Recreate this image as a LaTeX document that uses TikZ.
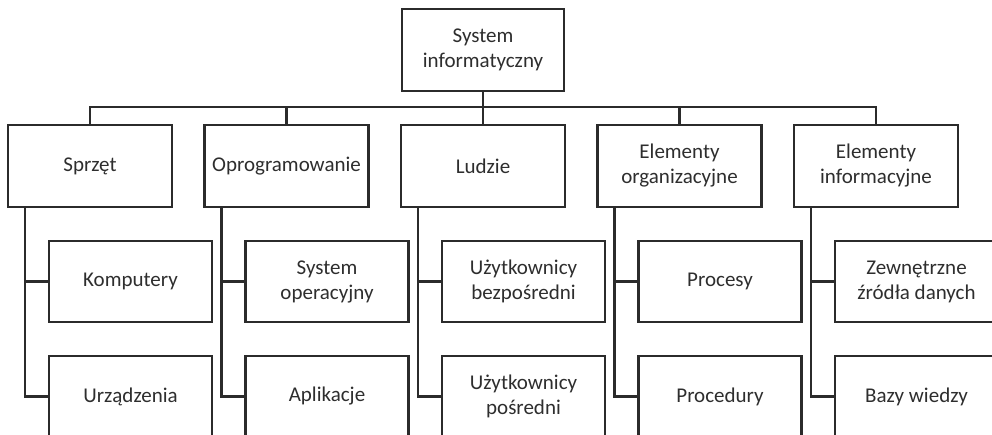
\documentclass[tikz,border=0pt]{standalone}
\usepackage{fontspec}
\setmainfont{Carlito}
\definecolor{ln}{rgb}{0.17,0.17,0.17}
\definecolor{tx}{rgb}{0.18,0.18,0.18}
\begin{document}
\begin{tikzpicture}[x=1pt,y=-1pt,
  box/.style={draw=ln,line width=2.6pt,fill=white,align=center,text=tx,
    font=\fontsize{21}{25}\selectfont,inner sep=0pt,
    minimum width=164pt,minimum height=82pt},
  subbox/.style={box,minimum width=163pt,minimum height=81pt},
  conn/.style={draw=ln,line width=2.6pt}]
\useasboundingbox (0,0) rectangle (992,434);
\clip (0,0) rectangle (992,434);
\fill[white] (0,0) rectangle (992,434);
\coordinate (bus) at (0,107);
\node[box,minimum width=162pt] (top) at (483,50) {System\\informatyczny};
\node[box] (a) at (90,166) {Sprzęt};
\node[box] (b) at (286.5,166) {Oprogramowanie};
\node[box] (c) at (483,166) {Ludzie};
\node[box] (d) at (679.5,166) {Elementy\\organizacyjne};
\node[box] (e) at (876,166) {Elementy\\informacyjne};
\node[subbox] (a1) at (130.5,281.5) {Komputery};
\node[subbox] (a2) at (130.5,396.5) {Urządzenia};
\node[subbox] (b1) at (327,281.5) {System\\operacyjny};
\node[subbox] (b2) at (327,396.5) {Aplikacje};
\node[subbox] (c1) at (523.5,281.5) {Użytkownicy\\bezpośredni};
\node[subbox] (c2) at (523.5,396.5) {Użytkownicy\\pośredni};
\node[subbox] (d1) at (720,281.5) {Procesy};
\node[subbox] (d2) at (720,396.5) {Procedury};
\node[subbox] (e1) at (916.5,281.5) {Zewnętrzne\\źródła danych};
\node[subbox] (e2) at (916.5,396.5) {Bazy wiedzy};
\draw[conn] (top.south) -- (top.south |- bus);
\draw[conn] (a.north) -- (a.north |- bus) -- (e.north |- bus) -- (e.north);
\foreach \n in {b,c,d}{\draw[conn] (\n.north) -- (\n.north |- bus);}
\foreach \n in {a,b,c,d,e}{
  \draw[conn] ([xshift=-65pt]\n.south) |- (\n2.west);
  \draw[conn] ([xshift=-65pt]\n.south |- \n1.west) -- (\n1.west);
}
\end{tikzpicture}
\end{document}
